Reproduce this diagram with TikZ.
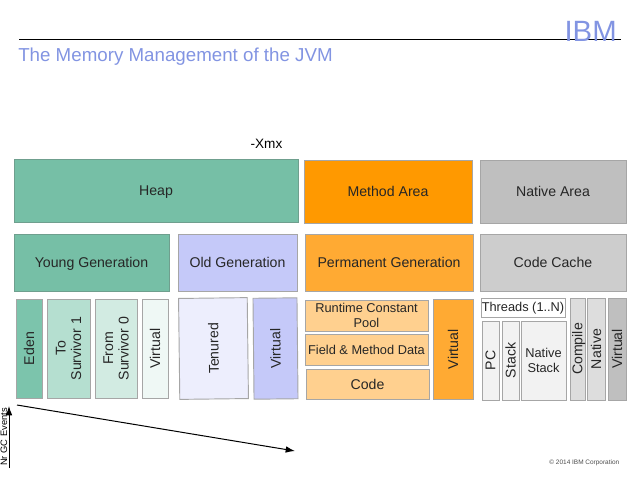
\documentclass[tikz,border=0pt]{standalone}
\usepackage{fontspec}
\setmainfont{Liberation Sans}
\usetikzlibrary{arrows.meta}
\definecolor{heapc}{HTML}{76BFA6}\definecolor{heapd}{HTML}{6F9F8E}
\definecolor{edenc}{HTML}{7CC4AC}
\definecolor{toc}{HTML}{B5DFD0}\definecolor{fromc}{HTML}{D2EBE2}\definecolor{virtc}{HTML}{EFF8F5}
\definecolor{oldc}{HTML}{C5C9F9}\definecolor{tenc}{HTML}{EDEEFD}
\definecolor{mac}{HTML}{FF9900}\definecolor{permc}{HTML}{FFAA33}\definecolor{litec}{HTML}{FFD08F}
\definecolor{natc}{HTML}{BFBFBF}\definecolor{cachec}{HTML}{CDCDCD}\definecolor{paleg}{HTML}{F2F2F2}
\definecolor{midg}{HTML}{DDDDDD}\definecolor{edgeg}{HTML}{A6A6A6}
\definecolor{titlec}{HTML}{8294E2}
\newcommand{\hb}[7]{\node[bx,#6,minimum width={(#4-#2)*0.75pt},minimum height={(#5-#3)*0.75pt}] (#1) at ({(#2+#4)/2},{(#3+#5)/2}) {#7};}
\newcommand{\vb}[7]{\node[bx,#6,rotate=90,minimum width={(#5-#3)*0.75pt},minimum height={(#4-#2)*0.75pt}] (#1) at ({(#2+#4)/2},{(#3+#5)/2}) {#7};}
\newcommand{\nd}[1]{\vphantom{A}\smash{#1}}
\tikzset{bx/.style={draw=edgeg,line width=0.7pt,inner sep=0pt,outer sep=0pt,align=center,font=\fontsize{10.6}{11.6}\selectfont,text=black!85},
 small/.style={font=\fontsize{9.6}{10.8}\selectfont},
 arrow/.style={-{Latex[length=7pt,width=5pt]},line width=0.75pt}}
\begin{document}
\begin{tikzpicture}[x=0.75pt,y=-0.75pt]
\useasboundingbox (0,0) rectangle (638,479);
\coordinate (ruleL) at (19,39); \coordinate (ruleR) at (621,39);
\draw[line width=0.75pt] (ruleL) -- (ruleR);
\node[inner sep=0pt,anchor=base east,text=titlec,font=\fontsize{22}{24}\selectfont] (ibm) at (617,41) {IBM};
\node[inner sep=0pt,anchor=base west,text=titlec,font=\fontsize{14.05}{16}\selectfont] (title) at (18,61) {The Memory Management of the JVM};
\node[inner sep=0pt,font=\fontsize{10.2}{11}\selectfont] (xmx) at (266.5,144) {-Xmx};
\hb{heap}{14}{159}{298}{222}{fill=heapc,draw=heapd}{\nd{Heap}}
\hb{ma}{304}{160}{472}{223}{fill=mac}{Method Area}
\hb{na}{480}{160}{626}{223}{fill=natc}{Native Area}
\hb{yg}{14}{234}{169}{291}{fill=heapc,draw=heapd}{\nd{Young Generation}}
\hb{og}{178}{234}{297}{291}{fill=oldc}{\nd{Old Generation}}
\hb{pg}{305}{234}{473}{291}{fill=permc}{\nd{Permanent Generation}}
\hb{cc}{480}{234}{626}{291}{fill=cachec}{Code Cache}
\vb{eden}{16}{299}{42}{398}{fill=edenc}{Eden}
\vb{to}{47}{299}{90}{398}{fill=toc}{To\\Survivor 1}
\vb{from}{95}{299}{137}{398}{fill=fromc}{From\\Survivor 0}
\vb{v1}{142}{299}{168}{398}{fill=virtc}{Virtual}
\node[bx,fill=tenc,rotate=90.7,minimum width=75.7pt,minimum height=51.5pt] (ten) at (213.5,348.5) {Tenured};
\node[bx,fill=oldc,rotate=90.6,minimum width=75.7pt,minimum height=33pt] (v2) at (275.5,348.5) {Virtual};
\hb{rcp}{305}{300}{428}{331}{fill=litec,small}{Runtime Constant\\Pool}
\hb{fmd}{305}{334.5}{428}{365}{fill=litec,small}{Field \& Method Data}
\hb{code}{306}{369}{429}{399.5}{fill=litec}{Code}
\vb{v3}{433}{299}{473}{399.5}{fill=permc}{Virtual}
\hb{thr}{481}{298}{565}{317}{fill=white,small}{\nd{Threads (1..N)}}
\vb{pc}{482}{321}{499}{400}{fill=paleg}{PC}
\vb{st}{502}{321}{519}{400}{fill=paleg}{Stack}
\hb{ns}{521}{321}{566}{400}{fill=paleg,small}{Native\\Stack}
\vb{cmp}{570}{298}{585}{400}{fill=midg}{\nd{Compile}}
\vb{nat}{587}{298}{605}{400}{fill=midg}{Native}
\vb{v4}{608}{298}{626}{400}{fill=natc}{Virtual}
\coordinate (a1) at (17,405); \coordinate (a2) at (295,451);
\draw[arrow] (a1) -- (a2);
\coordinate (b1) at (9,468); \coordinate (b2) at (9,406);
\draw[arrow] (b1) -- (b2);
\node[inner sep=0pt,rotate=90,font=\fontsize{7}{8}\selectfont] (gc) at (4,437) {Nr GC Events};
\node[inner sep=0pt,anchor=east,text=black!70,font=\fontsize{4.85}{5}\selectfont] (cr) at (619.5,463) {© 2014 IBM Corporation};
\end{tikzpicture}
\end{document}
